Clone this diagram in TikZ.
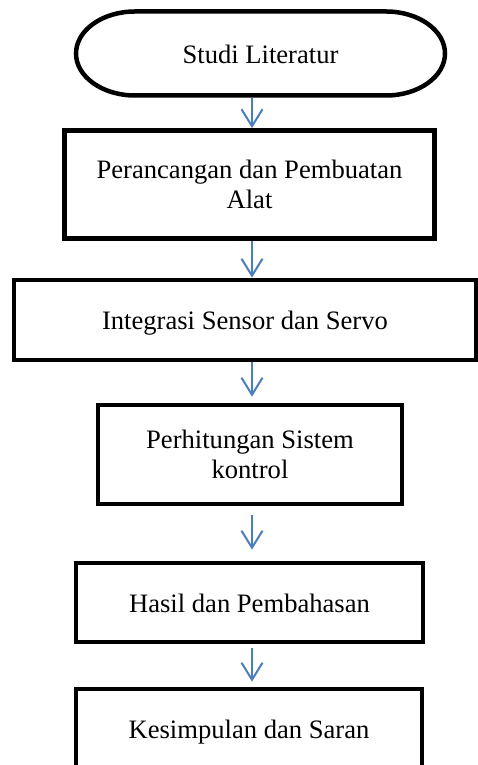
\documentclass[tikz,border=0pt]{standalone}
\usepackage{fontspec}
\setmainfont{Liberation Serif}
\usetikzlibrary{arrows.meta}
\definecolor{arrblue}{HTML}{4A7EBB}
\begin{document}
\begin{tikzpicture}[x=1pt,y=1pt,
  lbl/.style={font=\fontsize{26.6}{30}\selectfont, align=center, inner sep=0pt},
  onel/.style={lbl, text height=22pt, text depth=2pt},
  boxnode/.style={draw=black, line width=4.7pt, rectangle},
  border/.style={draw=black, line width=4.5pt},
  arr/.style={draw=arrblue, line width=2pt, -{Straight Barb[length=17pt,width=21pt]}}]
\useasboundingbox (0,0) rectangle (478,765);
\clip (0,0) rectangle (478,765);
\coordinate (ax) at (252,0);
% terminator
\node[onel, outer sep=2.25pt, minimum width=369pt, minimum height=84pt] (s) at (260.5,711.5) {Studi Literatur};
\draw[border] ([shift={(-125.5pt,42pt)}]s.center) -- ([shift={(125.5pt,42pt)}]s.center)
  arc[start angle=90,end angle=-90,x radius=59pt,y radius=42pt]
  -- ([shift={(-125.5pt,-42pt)}]s.center)
  arc[start angle=270,end angle=90,x radius=59pt,y radius=42pt] -- cycle;
% process boxes
\node[boxnode, lbl, minimum width=370pt, minimum height=108pt] (p) at (249.5,580.5) {Perancangan dan Pembuatan\\Alat};
\node[boxnode, onel, minimum width=462pt, minimum height=80pt] (i) at (245,445) {Integrasi Sensor dan Servo};
\node[boxnode, lbl, minimum width=304pt, minimum height=99pt] (h) at (250,310.5) {Perhitungan Sistem\\kontrol};
\node[boxnode, onel, minimum width=347pt, minimum height=79pt] (r) at (249.5,162.5) {Hasil dan Pembahasan};
\node[boxnode, onel, minimum width=346pt, minimum height=79pt] (k) at (249,36.5) {Kesimpulan dan Saran};
% connectors
\draw[arr] (s.south -| ax) -- (p.north -| ax);
\draw[arr] (p.south -| ax) -- (i.north -| ax);
\draw[arr, shorten >=6pt] (i.south -| ax) -- (h.north -| ax);
\draw[arr, shorten <=9pt, shorten >=11pt] (h.south -| ax) -- (r.north -| ax);
\draw[arr, shorten <=4pt, shorten >=5pt] (r.south -| ax) -- (k.north -| ax);
\end{tikzpicture}
\end{document}
